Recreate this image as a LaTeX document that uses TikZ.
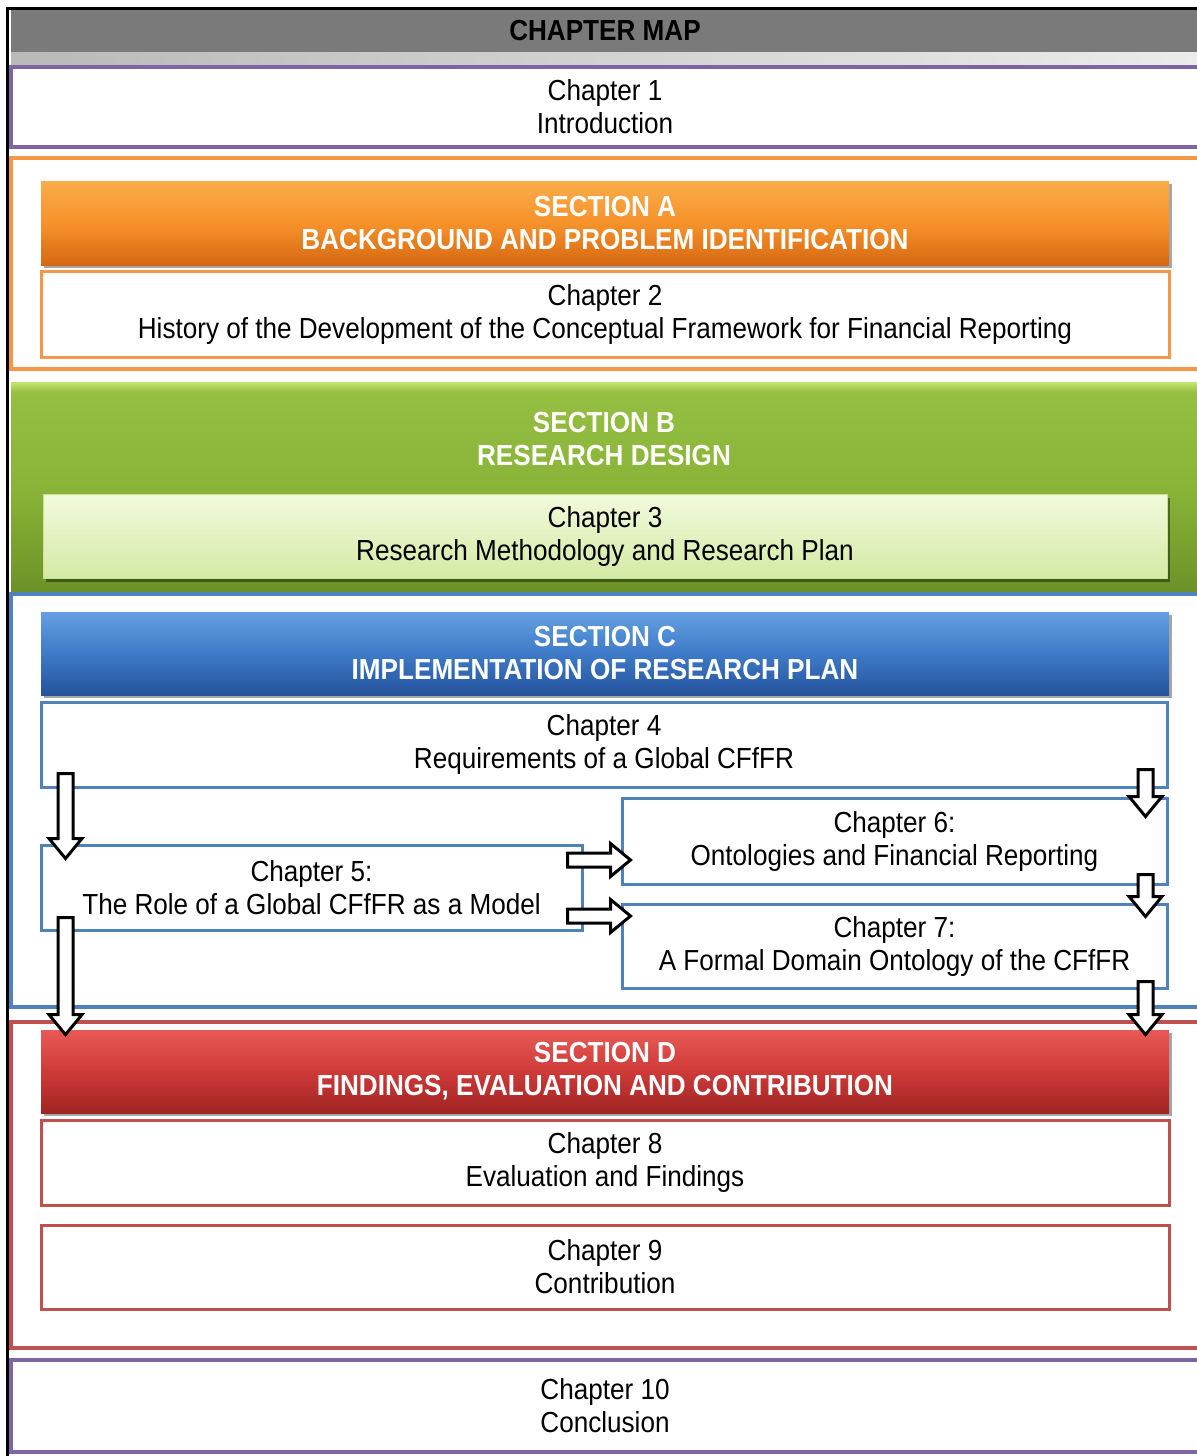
\documentclass[tikz,border=0pt]{standalone}
\usepackage{fontspec}
\setmainfont{Liberation Sans}[FakeStretch=0.9]
\usetikzlibrary{calc,shadows}
\definecolor{cpurple}{RGB}{128,100,162}
\definecolor{corange}{RGB}{247,150,70}
\definecolor{cblue}{RGB}{79,129,189}
\definecolor{cred}{RGB}{192,80,77}
\definecolor{cgray}{RGB}{122,122,122}
\definecolor{cgreenedge}{RGB}{200,225,150}
\newcommand\blkdown[2]{\draw[blk] let \p1=#1, \p2=#2 in
  (\x1-3.75pt,\y1) -- (\x1+3.75pt,\y1) -- (\x1+3.75pt,\y2+10pt) -- (\x1+8.25pt,\y2+10pt)
  -- (\x1,\y2) -- (\x1-8.25pt,\y2+10pt) -- (\x1-3.75pt,\y2+10pt) -- cycle;}
\newcommand\blkright[2]{\draw[blk] let \p1=#1, \p2=#2 in
  (\x1,\y1+3.5pt) -- (\x2-10pt,\y1+3.5pt) -- (\x2-10pt,\y1+8.25pt) -- (\x2,\y1)
  -- (\x2-10pt,\y1-8.25pt) -- (\x2-10pt,\y1-3.5pt) -- (\x1,\y1-3.5pt) -- cycle;}
\tikzset{
  frame/.style={draw, line width=1.75pt, fill=white, inner sep=0pt, minimum width=594pt, align=center},
  chbox/.style={draw, line width=1.5pt, fill=white, inner sep=0pt, align=center},
  secbar/.style={inner sep=0pt, align=center, text=white,
    font=\fontsize{14.5}{16.5}\selectfont\bfseries, minimum width=564pt,
    drop shadow={shadow xshift=1.5pt, shadow yshift=-1.5pt, opacity=0.35, fill=black}},
  blk/.style={draw=black, fill=white, line width=1.5pt, line join=miter},
}
\begin{document}
\begin{tikzpicture}[x=0.5pt, y=-0.5pt, font=\fontsize{14.5}{16.5}\selectfont]
\useasboundingbox (0,0) rectangle (1196,1456);
\fill[white] (0,0) rectangle (1196,1456);

% title
\node[fill=cgray, inner sep=0pt, minimum width=594pt, minimum height=21pt,
      font=\fontsize{14.5}{16.5}\selectfont\bfseries] (title) at (605,31) {CHAPTER MAP};
\node[inner sep=0pt, minimum width=594pt, minimum height=6pt,
      left color={rgb,255:red,185;green,185;blue,185}, right color={rgb,255:red,235;green,235;blue,235}] (band) at (605,58) {};

% chapter 1
\node[frame, draw=cpurple, line width=2pt, minimum height=40pt] (ch1) at (605,107) {Chapter 1\\Introduction};

% section A
\node[frame, draw=corange, minimum height=105.5pt] (secA) at (605,263.5) {};
\node[secbar, minimum height=42pt,
      top color={rgb,255:red,250;green,172;blue,75}, bottom color={rgb,255:red,214;green,104;blue,18},
      middle color={rgb,255:red,246;green,146;blue,42}] (secAbar) at (605,223)
      {SECTION A\\BACKGROUND AND PROBLEM IDENTIFICATION};
\node[chbox, draw=corange, minimum width=564pt, minimum height=43pt] (ch2) at (605,314)
      {Chapter 2\\History of the Development of the Conceptual Framework for Financial Reporting};

% section B
\node[inner sep=0pt, minimum width=594pt, minimum height=105pt,
      top color={rgb,255:red,150;green,192;blue,66}, bottom color={rgb,255:red,108;green,146;blue,40},
      middle color={rgb,255:red,138;green,180;blue,56}] (secB) at (605,487) {};
\fill[top color={rgb,255:red,195;green,228;blue,115}, bottom color={rgb,255:red,150;green,192;blue,66}]
      (11,382) rectangle (1199,392);
\node[text=white, align=center, font=\fontsize{14.5}{16.5}\selectfont\bfseries] (secBtitle) at (604,439)
      {SECTION B\\RESEARCH DESIGN};
\node[chbox, draw=cgreenedge, line width=0.5pt, minimum width=562pt, minimum height=42pt,
      top color={rgb,255:red,242;green,250;blue,220}, bottom color={rgb,255:red,212;green,234;blue,165},
      drop shadow={shadow xshift=1.5pt, shadow yshift=-2pt, opacity=0.4, fill=black}] (ch3) at (605,536)
      {Chapter 3\\Research Methodology and Research Plan};

% section C
\node[frame, draw=cblue, minimum height=206.5pt] (secC) at (605,800.5) {};
\node[secbar, minimum height=41.5pt,
      top color={rgb,255:red,100;green,160;blue,225}, bottom color={rgb,255:red,38;green,84;blue,156},
      middle color={rgb,255:red,62;green,122;blue,200}] (secCbar) at (605,653.5)
      {SECTION C\\IMPLEMENTATION OF RESEARCH PLAN};
\node[chbox, draw=cblue, minimum width=563pt, minimum height=42.5pt] (ch4) at (604,744.5)
      {Chapter 4\\Requirements of a Global CFfFR};
\node[chbox, draw=cblue, minimum width=270.5pt, minimum height=42.5pt] (ch5) at (311.5,887.5)
      {Chapter 5:\\The Role of a Global CFfFR as a Model};
\node[chbox, draw=cblue, minimum width=272.5pt, minimum height=43pt] (ch6) at (894.5,841)
      {Chapter 6:\\Ontologies and Financial Reporting};
\node[chbox, draw=cblue, minimum width=272.5pt, minimum height=42pt] (ch7) at (894.5,946)
      {Chapter 7:\\A Formal Domain Ontology of the CFfFR};

% section D
\node[frame, draw=cred, minimum height=163pt] (secD) at (605,1185) {};
\node[secbar, minimum height=41.5pt,
      top color={rgb,255:red,232;green,90;blue,85}, bottom color={rgb,255:red,160;green,36;blue,36},
      middle color={rgb,255:red,206;green,58;blue,56}] (secDbar) at (605,1071.5)
      {SECTION D\\FINDINGS, EVALUATION AND CONTRIBUTION};
\node[chbox, draw=cred, minimum width=564pt, minimum height=42.5pt] (ch8) at (605,1162.5)
      {Chapter 8\\Evaluation and Findings};
\node[chbox, draw=cred, minimum width=564pt, minimum height=42pt] (ch9) at (605,1267)
      {Chapter 9\\Contribution};

% chapter 10
\node[frame, draw=cpurple, line width=2pt, minimum height=46pt] (ch10) at (605,1406) {Chapter 10\\Conclusion};

% outer black border
\draw[line width=1.5pt] (7,1456) -- (7,8) -- (1200,8);

% block arrows
\blkdown{([xshift=13pt,yshift=7.5pt]ch4.south west)}{([xshift=13pt,yshift=-7.5pt]ch5.north west)}
\blkdown{([xshift=13pt,yshift=7pt]ch5.south west)}{([xshift=13pt,yshift=-2.5pt]secDbar.north west)}
\blkright{([xshift=-8pt,yshift=13.75pt]ch5.east)}{([xshift=5pt]ch6.west)}
\blkright{([xshift=-8pt,yshift=-14.25pt]ch5.east)}{([xshift=5pt]ch7.west)}
\blkdown{([xshift=-11.5pt,yshift=9.5pt]ch4.south east)}{([xshift=-11.5pt,yshift=-10pt]ch6.north east)}
\blkdown{([xshift=-11.5pt,yshift=5.5pt]ch6.south east)}{([xshift=-11.5pt,yshift=-7pt]ch7.north east)}
\blkdown{([xshift=-11.5pt,yshift=4pt]ch7.south east)}{([xshift=-12.5pt,yshift=-2.5pt]secDbar.north east)}
\end{tikzpicture}
\end{document}
